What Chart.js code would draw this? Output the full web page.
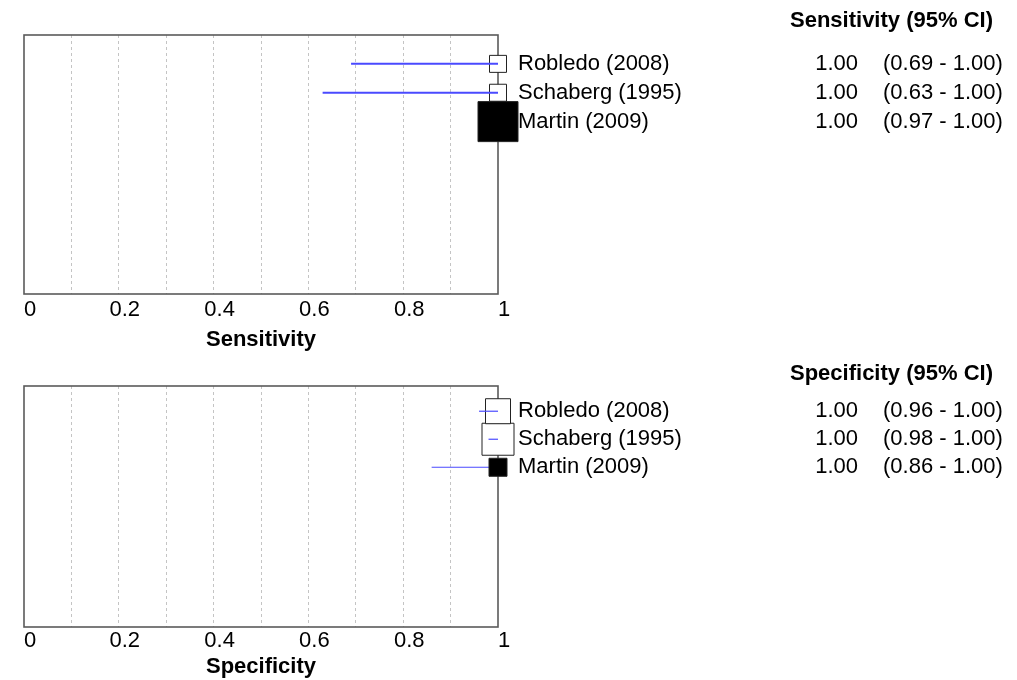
<!DOCTYPE html>
<html>
<head>
<meta charset="utf-8">
<script src="https://cdn.jsdelivr.net/npm/chart.js@4"></script>
<style>
  html, body { margin: 0; padding: 0; background: #fff; }
  body { width: 1017px; height: 680px; overflow: hidden; }
  .panel { width: 1003px; overflow: hidden; }
  canvas { display: block; }
</style>
</head>
<body>
<div class="panel"><canvas id="sens" width="1003" height="353"></canvas></div>
<div class="panel"><canvas id="spec" width="1003" height="327"></canvas></div>
<script>
/* forest plot data */
const studies = ['Robledo (2008)', 'Schaberg (1995)', 'Martin (2009)'];
const rows = [1, 2, 3];
const sensEst = [1.00, 1.00, 1.00];
const sensLow = [0.69, 0.63, 0.97];
const sensHigh = [1.00, 1.00, 1.00];
const specEst = [1.00, 1.00, 1.00];
const specLow = [0.96, 0.98, 0.86];
const specHigh = [1.00, 1.00, 1.00];
const xTickLabels = ['0', '0.2', '0.4', '0.6', '0.8', '1'];

/* styles */
const blue = '#4a4aff';
const gridGray = '#c4c4c4';
const boxGray = '#5a5a5a';
const boxFill = ['#ffffff', '#ffffff', '#000000'];
const font = '"Liberation Sans", Arial, sans-serif';
const fontSize = 22;

function panel(id, o){
  const ciSets = studies.map((s, i) => ({
    type: 'line',
    data: [{x: o.low[i], y: rows[i]}, {x: o.high[i], y: rows[i]}],
    borderColor: blue,
    borderWidth: o.ciWidth,
    pointRadius: 0,
    order: 0,
    clip: false
  }));
  // open boxes sit under the CI line, filled boxes cover it
  const marks = studies.map((s, i) => ({
    type: 'scatter',
    data: [{x: o.est[i], y: rows[i]}],
    pointStyle: 'rect',
    pointRadius: o.boxes[i] / Math.SQRT2,
    pointBackgroundColor: boxFill[i],
    pointBorderColor: '#222',
    pointBorderWidth: 1,
    order: boxFill[i] === '#000000' ? -1 : 1,
    clip: false
  }));

  const frame = {
    id: 'frame',
    beforeDatasetsDraw(chart){
      const a = chart.chartArea, c = chart.ctx;
      c.save();
      c.strokeStyle = boxGray;
      c.lineWidth = 1.6;
      c.strokeRect(a.left, a.top, a.right - a.left, a.bottom - a.top);
      c.restore();
    },
    afterDraw(chart){
      const c = chart.ctx, y = chart.scales.y;
      c.save();
      c.fillStyle = '#000';
      c.textBaseline = 'middle';
      c.font = 'bold ' + fontSize + 'px ' + font;
      c.textAlign = 'left';
      c.fillText(o.header, 790, o.headerY);
      c.font = fontSize + 'px ' + font;
      studies.forEach((s, i) => {
        const py = y.getPixelForValue(rows[i]);
        c.textAlign = 'left';
        c.fillText(s, 518, py);
        c.textAlign = 'right';
        c.fillText(o.est[i].toFixed(2), 858, py);
        c.textAlign = 'left';
        c.fillText('(' + o.low[i].toFixed(2) + ' - ' + o.high[i].toFixed(2) + ')', 883, py);
      });
      c.restore();
    }
  };

  return new Chart(document.getElementById(id), {
    data: {datasets: [...ciSets, ...marks]},
    options: {
      responsive: false,
      animation: false,
      events: [],
      layout: {autoPadding: false, padding: {left: 24, right: 505, top: o.padTop, bottom: 0}},
      plugins: {legend: {display: false}, tooltip: {enabled: false}},
      scales: {
        x: {
          type: 'linear',
          min: 0, max: 1,
          afterFit: s => { s.height = o.axisHeight; },
          ticks: {
            stepSize: 0.1,
            autoSkip: false,
            maxRotation: 0,
            padding: o.tickPad,
            labelOffset: 6,
            color: '#000',
            font: {family: font, size: fontSize},
            callback: (v, i) => i % 2 === 0 ? xTickLabels[i / 2] : ''
          },
          grid: {
            drawTicks: false,
            color: c => (c.tick && (Math.abs(c.tick.value) < 1e-6 || Math.abs(c.tick.value - 1) < 1e-6)) ? 'rgba(0,0,0,0)' : gridGray,
            lineWidth: 1
          },
          border: {display: false, dash: [3, 3]},
          title: {
            display: true,
            text: o.title,
            color: '#000',
            font: {family: font, size: fontSize, weight: 'bold'},
            padding: {top: 0, bottom: 0}
          }
        },
        y: {
          type: 'linear',
          reverse: true,
          min: o.yMin, max: o.yMax,
          display: false
        }
      }
    },
    plugins: [frame]
  });
}

panel('sens', {
  est: sensEst, low: sensLow, high: sensHigh,
  title: 'Sensitivity', header: 'Sensitivity (95% CI)', headerY: 21,
  boxes: [17, 17, 40], ciWidth: 2,
  yMin: 0, yMax: 8.97, padTop: 35, axisHeight: 59, tickPad: 3
});
panel('spec', {
  est: specEst, low: specLow, high: specHigh,
  title: 'Specificity', header: 'Specificity (95% CI)', headerY: 21,
  boxes: [25, 32, 18], ciWidth: 1.2,
  yMin: 0.1, yMax: 8.7, padTop: 33, axisHeight: 53, tickPad: 1
});
</script>
</body>
</html>
